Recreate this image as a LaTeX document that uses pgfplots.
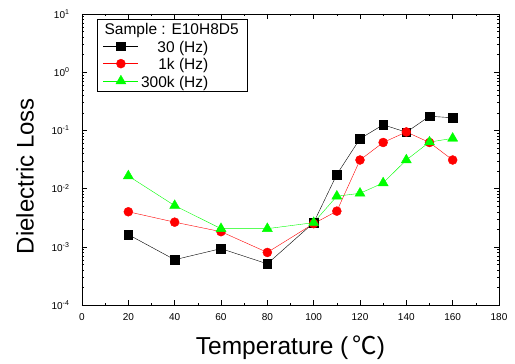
\documentclass[border=0pt]{standalone}
\usepackage{pgfplots}
\pgfplotsset{compat=1.18}
\usepackage{fontspec}
\setmainfont{Liberation Sans}
\newfontfamily\cjk{Noto Sans CJK KR}
\definecolor{lgreen}{RGB}{0,255,0}
\begin{document}
\begin{tikzpicture}
\useasboundingbox (-82pt,-59pt) rectangle (433pt,305pt);
\begin{axis}[
  scale only axis,
  width=417pt, height=291pt,
  xmin=0, xmax=180,
  ymode=log, ymin=1e-4, ymax=10,
  xtick={0,20,...,180},
  minor x tick num=1,
  ytick={1e-4,1e-3,1e-2,1e-1,1,10},
  yticklabels={10\textsuperscript{-4},10\textsuperscript{-3},10\textsuperscript{-2},10\textsuperscript{-1},10\textsuperscript{0},10\textsuperscript{1}},
  xticklabel style={font=\fontsize{10}{12}\selectfont, yshift=-5pt},
  yticklabel style={font=\fontsize{10}{12}\selectfont, xshift=-9pt},
  /pgf/number format/assume math mode=true,
  tick style={black, thin},
  major tick length=5pt,
  minor tick length=2.5pt,
  xlabel={Temperature (\,{\cjk ℃})},
  ylabel={Dielectric Loss},
  xlabel style={font=\fontsize{24.5}{28}\selectfont, yshift=-8pt},
  ylabel style={font=\fontsize{24}{28}\selectfont, at={(ticklabel cs:0.443)}, yshift=11pt},
  legend style={at={(0.036,0.983)}, anchor=north west, draw=black, thin,
     font=\fontsize{15.5}{18}\selectfont, inner xsep=6pt, inner ysep=1pt, row sep=0pt,
     nodes={text height=13.7pt, text depth=1.7pt, inner xsep=2.5pt, inner ysep=1pt},
     legend cell align=left},
  legend image code/.code={\draw[mark repeat=2,mark phase=2] plot coordinates {(0pt,0pt)(17.5pt,0pt)(35pt,0pt)};},
]
\addlegendimage{empty legend}
\addlegendentry{\hspace*{-36.5pt}\rule{0pt}{17.5pt}Sample : E10H8D5}
\addplot[black, thin, mark=square*, mark size=4.3pt, mark options={solid, fill=black}] coordinates {
(20,1.62e-3) (40,6.0e-4) (60,9.3e-4) (80,5.1e-4) (100,2.6e-3) (110,0.0175) (120,0.072) (130,0.125) (140,0.093) (150,0.175) (160,0.165)};
\addlegendentry{\phantom{0k}30 (Hz)}
\addplot[red, thin, mark=*, mark size=4.5pt, mark options={solid, fill=red}] coordinates {
(20,4.0e-3) (40,2.65e-3) (60,1.82e-3) (80,8.0e-4) (100,2.5e-3) (110,4.1e-3) (120,0.031) (130,0.062) (140,0.094) (150,0.062) (160,0.031)};
\addlegendentry{\phantom{00}1k (Hz)}
\addplot[lgreen, thin, mark=triangle*, mark size=5.8pt, mark options={solid, fill=lgreen}] coordinates {
(20,0.0165) (40,5.1e-3) (60,2.05e-3) (80,2.05e-3) (100,2.6e-3) (110,7.4e-3) (120,8.3e-3) (130,0.0125) (140,0.031) (150,0.063) (160,0.073)};
\addlegendentry{300k (Hz)}
\end{axis}
\end{tikzpicture}
\end{document}
